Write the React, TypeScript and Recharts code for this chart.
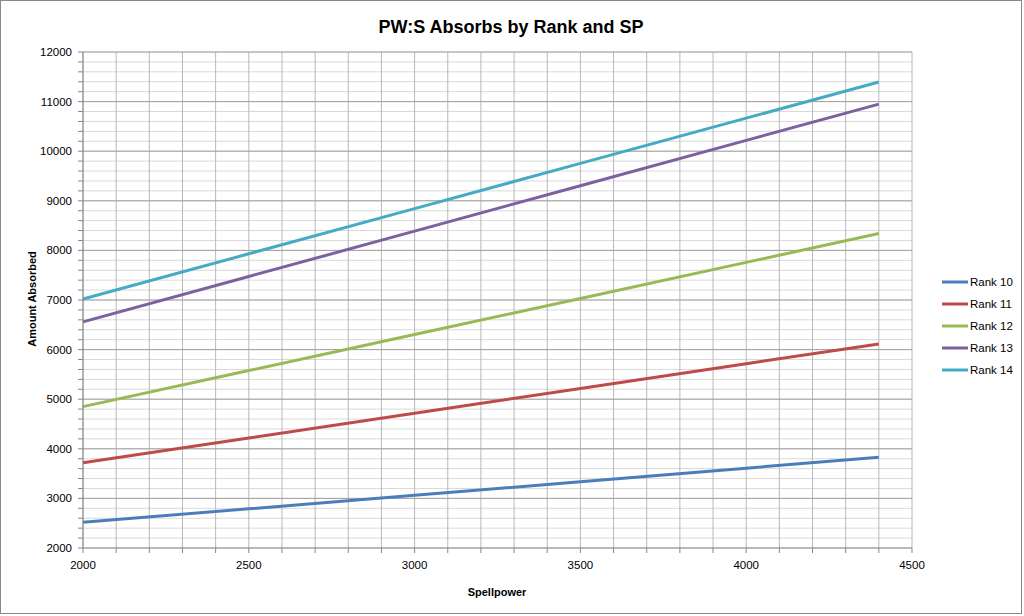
import {
    LineChart,
    Line,
    XAxis,
    YAxis,
    CartesianGrid,
    ReferenceLine,
    Legend,
} from "recharts";

const spellpower = [2000, 2500, 3000, 3500, 4000, 4400];
const rank10 = [2517, 2790, 3062, 3336, 3610, 3830];
const rank11 = [3717, 4218, 4717, 5217, 5716, 6115];
const rank12 = [4850, 5577, 6304, 7031, 7758, 8340];
const rank13 = [6560, 7474, 8389, 9303, 10218, 10950];
const rank14 = [7020, 7931, 8843, 9754, 10666, 11395];

const seriesNames = ["Rank 10", "Rank 11", "Rank 12", "Rank 13", "Rank 14"];
const seriesColors = ["#4a7ebb", "#be4b48", "#98b954", "#7d60a0", "#46aac5"];
const seriesValues = [rank10, rank11, rank12, rank13, rank14];

const xLabelTicks = [2000, 2500, 3000, 3500, 4000, 4500];
const yLabelTicks = [2000, 3000, 4000, 5000, 6000, 7000, 8000, 9000, 10000, 11000, 12000];
const xTicks = Array.from({ length: 26 }, (_, i) => 2000 + i * 100);
const yTicks = Array.from({ length: 51 }, (_, i) => 2000 + i * 200);

const data = spellpower.map((sp, i) => {
    const row: Record<string, number> = { sp };
    seriesNames.forEach((name, s) => {
        row[name] = seriesValues[s][i];
    });
    return row;
});

const font = "'Liberation Sans', Arial, sans-serif";

function LegendBox({ payload }: any) {
    return (
        <div style={{ fontFamily: font, fontSize: 11.5, color: "#000" }}>
            {(payload || []).map((p: any) => (
                <div key={p.value} style={{ display: "flex", alignItems: "center", height: 22 }}>
                    <svg width={27} height={4} style={{ display: "block" }}>
                        <line x1={0} y1={2} x2={26} y2={2} stroke={p.color} strokeWidth={3} />
                    </svg>
                    <span style={{ marginLeft: 1 }}>{p.value}</span>
                </div>
            ))}
        </div>
    );
}

export default function App() {
    return (
        <div style={{ position: "absolute", left: 0, top: 0, width: 1024, height: 616, background: "#fff" }}>
            <div
                style={{
                    position: "absolute",
                    left: 0,
                    top: 0,
                    width: 1022,
                    height: 614,
                    border: "1px solid #888",
                    boxSizing: "border-box",
                }}
            />
            <LineChart
                width={1024}
                height={616}
                data={data}
                margin={{ top: 52, right: 112, bottom: 38, left: 23 }}
                style={{ position: "absolute", left: 0, top: 0 }}
            >
                <CartesianGrid stroke="#d9d9d9" horizontalValues={yTicks} verticalValues={xTicks} vertical={false} />
                <CartesianGrid stroke="#b8b8b8" verticalValues={xTicks} horizontal={false} />
                {yLabelTicks.slice(1).map((v) => (
                    <ReferenceLine key={v} y={v} stroke="#a0a0a0" />
                ))}
                <XAxis
                    dataKey="sp"
                    type="number"
                    domain={[2000, 4500]}
                    ticks={xTicks}
                    interval={0}
                    height={30}
                    tickSize={5}
                    tickMargin={8}
                    stroke="#868686"
                    tick={{ fontSize: 11.5, fill: "#000", fontFamily: font }}
                    tickFormatter={(v) => (xLabelTicks.includes(v) ? String(v) : "")}
                />
                <YAxis
                    type="number"
                    domain={[2000, 12000]}
                    ticks={yTicks}
                    interval={0}
                    width={60}
                    tickSize={5}
                    tickMargin={6}
                    stroke="#868686"
                    tick={{ fontSize: 11.5, fill: "#000", fontFamily: font }}
                    tickFormatter={(v) => (yLabelTicks.includes(v) ? String(v) : "")}
                />
                {seriesNames.map((name, i) => (
                    <Line
                        key={name}
                        type="linear"
                        dataKey={name}
                        stroke={seriesColors[i]}
                        strokeWidth={3}
                        dot={false}
                        activeDot={false}
                        isAnimationActive={false}
                    />
                ))}
                <Legend
                    layout="vertical"
                    align="center"
                    verticalAlign="middle"
                    wrapperStyle={{ left: 942, top: 271, width: 80 }}
                    content={<LegendBox />}
                />
                <text x={511} y={33} textAnchor="middle" fontFamily={font} fontWeight="bold" fontSize={18} fill="#000">
                    PW:S Absorbs by Rank and SP
                </text>
                <text x={497} y={596} textAnchor="middle" fontFamily={font} fontWeight="bold" fontSize={11} fill="#000">
                    Spellpower
                </text>
                <text
                    x={36}
                    y={299}
                    transform="rotate(-90 36 299)"
                    textAnchor="middle"
                    fontFamily={font}
                    fontWeight="bold"
                    fontSize={11}
                    fill="#000"
                >
                    Amount Absorbed
                </text>
            </LineChart>
        </div>
    );
}
